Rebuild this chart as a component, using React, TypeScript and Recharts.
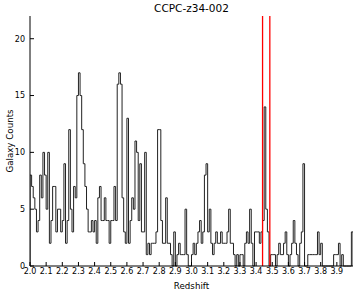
import React from 'react';
import { ComposedChart, Line, XAxis, YAxis, ReferenceLine } from 'recharts';

// galaxy counts per 0.01 redshift bin, one row per 0.1 step
const counts2_0 = [8, 7, 6, 5, 3, 4, 8, 6, 10, 8];
const counts2_1 = [5, 10, 2, 4, 7, 7, 3, 5, 5, 3];
const counts2_2 = [4, 9, 2, 4, 12, 5, 3, 7, 6, 15];
const counts2_3 = [17, 15, 12, 9, 7, 5, 3, 3, 4, 3];
const counts2_4 = [4, 2, 6, 7, 4, 4, 6, 4, 4, 2];
const counts2_5 = [4, 4, 7, 4, 16, 17, 16, 6, 3, 2];
const counts2_6 = [13, 2, 4, 6, 5, 11, 10, 4, 9, 3];
const counts2_7 = [3, 10, 1, 2, 1, 2, 2, 2, 3, 12];
const counts2_8 = [12, 4, 2, 2, 6, 2, 2, 1, 0, 3];
const counts2_9 = [0, 1, 2, 1, 1, 1, 5, 1, 0, 0];
const counts3_0 = [1, 2, 1, 2, 3, 4, 2, 3, 8, 9];
const counts3_1 = [3, 5, 2, 1, 2, 3, 2, 2, 3, 2];
const counts3_2 = [2, 2, 3, 5, 2, 2, 1, 0, 1, 0];
const counts3_3 = [1, 1, 0, 2, 3, 2, 5, 2, 0, 3];
const counts3_4 = [3, 3, 2, 3, 4, 14, 5, 3, 0, 1];
const counts3_5 = [1, 1, 0, 1, 2, 1, 1, 2, 3, 1];
const counts3_6 = [0, 1, 2, 4, 2, 1, 0, 2, 3, 9];
const counts3_7 = [0, 0, 1, 1, 1, 1, 1, 1, 3, 1];
const counts3_8 = [2, 0, 0, 0, 0, 0, 0, 0, 1, 1];
const counts3_9 = [1, 2, 0, 1, 0, 0, 0, 0, 0, 3];

const counts = [
  ...counts2_0, ...counts2_1, ...counts2_2, ...counts2_3, ...counts2_4,
  ...counts2_5, ...counts2_6, ...counts2_7, ...counts2_8, ...counts2_9,
  ...counts3_0, ...counts3_1, ...counts3_2, ...counts3_3, ...counts3_4,
  ...counts3_5, ...counts3_6, ...counts3_7, ...counts3_8, ...counts3_9,
];

const zMin = 2.0;
const zMax = 4.0;
const binWidth = 0.01;

const xTicks = [2.0, 2.1, 2.2, 2.3, 2.4, 2.5, 2.6, 2.7, 2.8, 2.9, 3.0, 3.1, 3.2, 3.3, 3.4, 3.5, 3.6, 3.7, 3.8, 3.9];
const yTicks = [0, 5, 10, 15, 20];
const redshiftWindow = [3.44, 3.485];

// step outline: drop to zero at both ends like a matplotlib 'step' histogram
const histData = [
  { z: zMin, n: 0 },
  ...counts.map((n, i) => ({ z: +(zMin + i * binWidth).toFixed(2), n })),
  { z: zMax, n: counts[counts.length - 1] },
  { z: zMax, n: 0 },
];

const font = 'DejaVu Sans, sans-serif';

export default function App() {
  return (
    <div style={{ position: 'absolute', left: 0, top: 0, width: 358, height: 295, background: '#fff' }}>
      <div
        style={{
          position: 'absolute', top: 2, left: 30, width: 323, textAlign: 'center',
          fontFamily: font, fontSize: 10.5, color: '#000',
        }}
      >
        CCPC-z34-002
      </div>
      <ComposedChart width={358} height={295} data={histData} margin={{ top: 16, right: 5, left: 0, bottom: 0 }}>
        <XAxis
          dataKey="z"
          type="number"
          domain={[zMin, zMax]}
          ticks={xTicks}
          tickFormatter={(v: number) => v.toFixed(1)}
          interval={0}
          allowDataOverflow
          height={29}
          tickSize={-4}
          tickMargin={6}
          stroke="#000"
          tick={{ fill: '#000', fontSize: 8, fontFamily: font }}
          label={{ value: 'Redshift', position: 'center', dy: 5, fill: '#000', fontSize: 8.7, fontFamily: font }}
        />
        <XAxis xAxisId="top" dataKey="z" type="number" orientation="top" domain={[zMin, zMax]} ticks={xTicks}
          height={0} tickSize={-4} tick={false} stroke="#000" allowDataOverflow />
        <YAxis
          domain={[0, 22]}
          ticks={yTicks}
          width={30}
          tickSize={-4}
          tickMargin={9}
          stroke="#000"
          tick={{ fill: '#000', fontSize: 8, fontFamily: font }}
          label={{ value: 'Galaxy Counts', angle: -90, position: 'center', dx: -5, fill: '#000', fontSize: 8.7, fontFamily: font }}
        />
        <YAxis yAxisId="right" orientation="right" domain={[0, 22]} ticks={yTicks} width={0}
          tickSize={-4} tick={false} stroke="#000" />
        <Line
          type="stepAfter"
          dataKey="n"
          stroke="#222"
          strokeWidth={1}
          dot={false}
          isAnimationActive={false}
        />
        {redshiftWindow.map((z) => (
          <ReferenceLine key={z} x={z} stroke="#ff0000" strokeWidth={1.3} />
        ))}
      </ComposedChart>
    </div>
  );
}
